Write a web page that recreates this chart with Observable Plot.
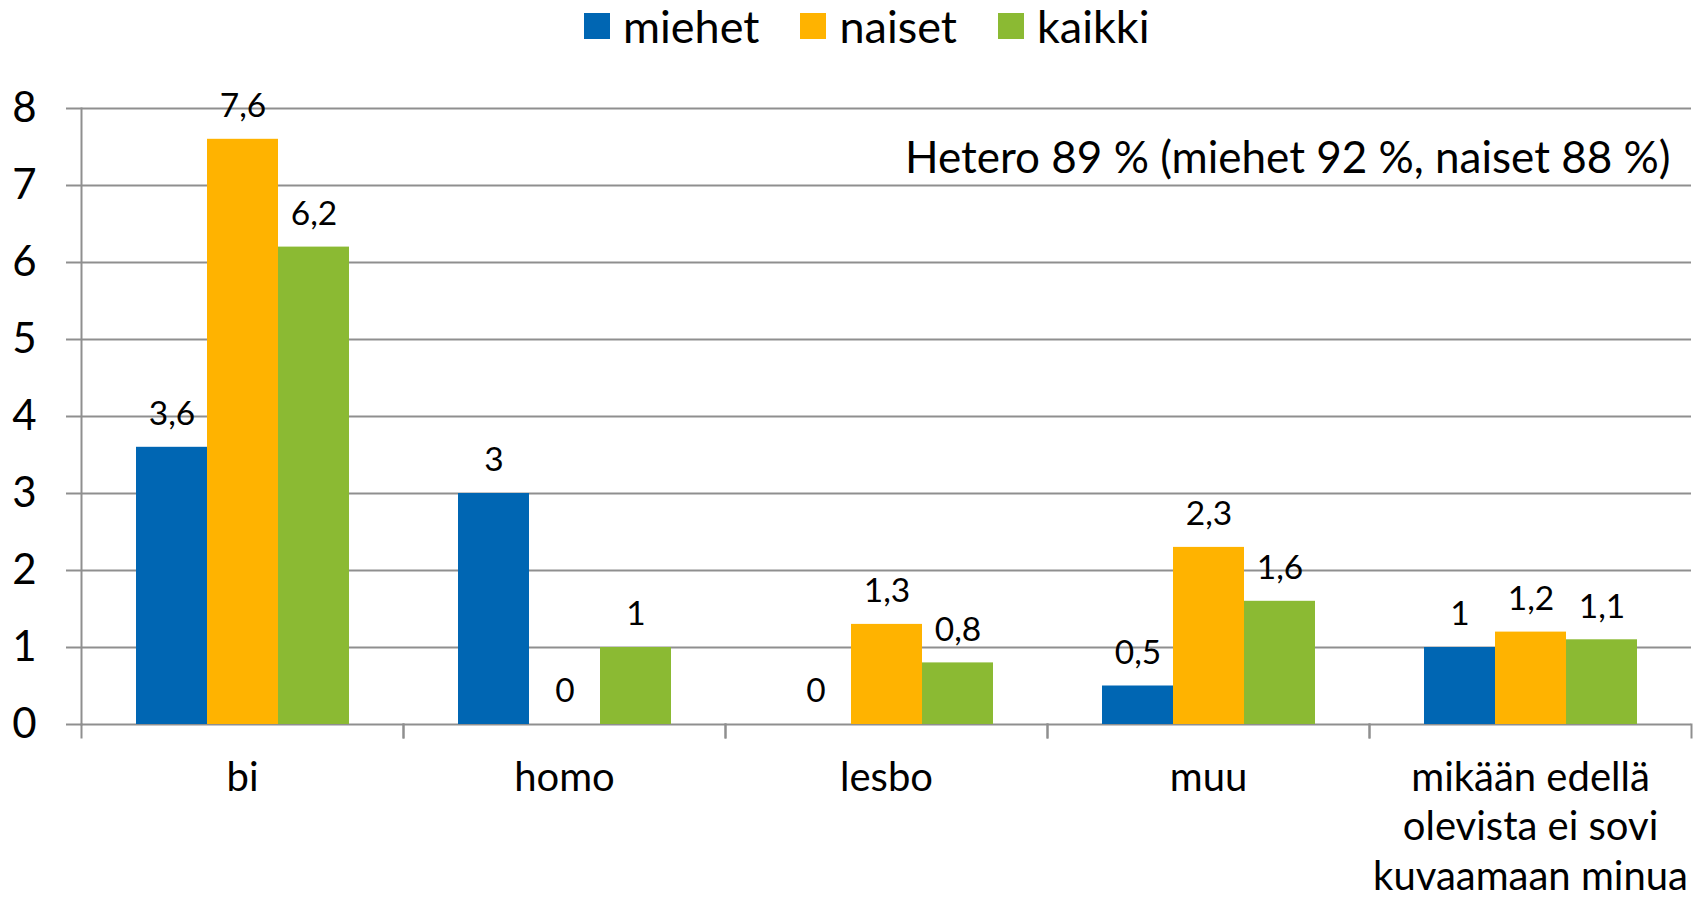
<!DOCTYPE html>
<html>
<head>
<meta charset="utf-8">
<script src="https://cdn.jsdelivr.net/npm/d3@7"></script>
<script src="https://cdn.jsdelivr.net/npm/@observablehq/plot@0.6"></script>
<style>
  html, body { margin: 0; padding: 0; background: #fff; }
  #wrap { position: relative; width: 1705px; height: 900px; font-family: Lato, sans-serif; }
  #legend { position: absolute; left: 584px; top: 0; height: 52px; display: flex; align-items: center; font-size: 45px; color: #000; }
  .item { display: flex; align-items: center; margin-right: 41px; }
  .sw { width: 26px; height: 26px; margin-right: 13px; }
  #chart { position: absolute; left: 0; top: 60px; }
</style>
</head>
<body>
<div id="wrap">
  <div id="legend"></div>
  <div id="chart"></div>
</div>
<script>
const categories = ["bi", "homo", "lesbo", "muu", "mikään edellä olevista ei sovi kuvaamaan minua"];
const categoryLabels = ["bi", "homo", "lesbo", "muu", "mikään edellä\nolevista ei sovi\nkuvaamaan minua"];
const series = ["miehet", "naiset", "kaikki"];
const miehet = [3.6, 3, 0, 0.5, 1];
const naiset = [7.6, 0, 1.3, 2.3, 1.2];
const kaikki = [6.2, 1, 0.8, 1.6, 1.1];
const colors = ["#0066B3", "#FFB300", "#8BBA33"];
const yTicks = [0, 1, 2, 3, 4, 5, 6, 7, 8];
const note = "Hetero 89 % (miehet 92 %, naiset 88 %)";

const seriesValues = {miehet, naiset, kaikki};
const rows = [];
categories.forEach((c, i) => series.forEach(s => rows.push({category: c, series: s, value: seriesValues[s][i]})));

const legend = document.getElementById("legend");
series.forEach((s, i) => {
  const it = document.createElement("div");
  it.className = "item";
  const sw = document.createElement("div");
  sw.className = "sw";
  sw.style.background = colors[i];
  const t = document.createElement("span");
  t.textContent = s;
  it.appendChild(sw); it.appendChild(t);
  legend.appendChild(it);
});

const gray = "#8f8f8f";
const W = 1705, H = 840, mt = 48, mb = 176, ml = 79, mr = 13;
const innerH = H - mt - mb;
const fmt = v => String(v).replace(".", ",");
const labelOf = c => categoryLabels[categories.indexOf(c)];

const chart = Plot.plot({
  width: W, height: H,
  marginTop: mt, marginBottom: mb, marginLeft: ml, marginRight: mr,
  style: {fontFamily: "Lato, sans-serif", fontSize: "40px", color: "#000", background: "white", overflow: "visible"},
  fx: {domain: categories, padding: 0, label: null},
  x: {domain: series, paddingInner: 0, paddingOuter: 0.75, axis: null},
  y: {domain: [0, 8], label: null},
  color: {domain: series, range: colors},
  marks: [
    Plot.ruleY(yTicks, {stroke: gray, strokeWidth: 2}),
    Plot.barY(rows, {fx: "category", x: "series", y: "value", fill: "series"}),
    Plot.text(rows, {fx: "category", x: "series", y: "value", text: d => fmt(d.value), dy: -33, lineAnchor: "middle", fontSize: 33.5, fill: "#000"}),
    Plot.frame({anchor: "left", facetAnchor: "left", stroke: gray, strokeWidth: 2}),
    Plot.frame({anchor: "left", insetTop: innerH, insetBottom: -13, stroke: gray, strokeWidth: 2}),
    Plot.frame({anchor: "right", insetTop: innerH, insetBottom: -13, stroke: gray, strokeWidth: 2}),
    Plot.axisY({ticks: yTicks, tickSize: 15, tickPadding: 30, fontSize: 42, stroke: gray, strokeWidth: 2, label: null, tickFormat: d => String(d)}),
    Plot.axisFx({anchor: "bottom", tickSize: 0, tickPadding: 31, fontSize: 40, lineHeight: 1.24, label: null, tickFormat: labelOf}),
    Plot.text([note], {fx: () => categories[categories.length - 1], frameAnchor: "top-right", textAnchor: "end", lineAnchor: "middle", dx: -21, dy: 50, fontSize: 44, fill: "#000"})
  ]
});
document.getElementById("chart").appendChild(chart);
</script>
</body>
</html>
